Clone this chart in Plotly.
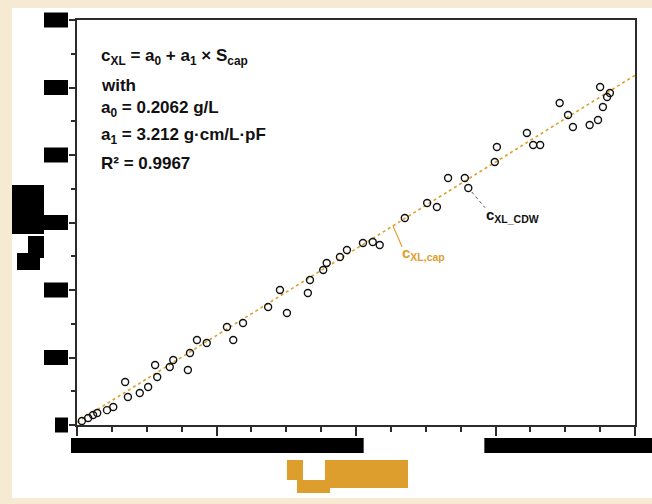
import plotly.graph_objects as go

# Capacitance signal S_cap (pF/cm) vs. dry-weight biomass concentration c_XL (g/L)
s_cap = [0.07, 0.16, 0.23, 0.29, 0.43, 0.52, 0.69, 0.73, 0.90, 1.02,
         1.12, 1.15, 1.33, 1.38, 1.59, 1.62, 1.72, 1.86, 2.15, 2.24,
         2.38, 2.74, 2.91, 3.01, 3.31, 3.34, 3.53, 3.58, 3.77, 3.87,
         4.10, 4.24, 4.34, 4.70, 5.02, 5.16, 5.32, 5.56, 5.61, 6.02,
         5.99, 6.45, 6.54, 6.64, 6.92, 7.04, 7.11, 7.35, 7.47, 7.54,
         7.64, 7.50, 7.60]
c_xl_cdw = [0.30, 0.52, 0.74, 0.89, 1.10, 1.33, 3.19, 2.07, 2.37, 2.81,
            4.44, 3.56, 4.30, 4.81, 4.07, 5.33, 6.30, 6.07, 7.26, 6.30,
            7.56, 8.74, 10.00, 8.30, 9.78, 10.74, 11.48, 12.00, 12.44, 12.96,
            13.48, 13.56, 13.33, 15.33, 16.44, 16.15, 18.30, 18.30, 17.56, 20.59,
            19.48, 21.63, 20.74, 20.74, 23.85, 22.96, 22.07, 22.22, 22.59, 23.56,
            24.59, 25.04, 24.30]

# Linear calibration c_XL = a0 + a1 * S_cap
a0 = 0.2062
a1 = 3.212
fit_x = [0.0, 8.0]
fit_y = [a0 + a1 * v for v in fit_x]

x_range = [0, 8]
y_range = [0, 30]
x_ticks = [0, 2, 4, 6, 8]
y_ticks = [0, 5, 10, 15, 20, 25, 30]

W, H = 652, 504
L, R, T, B = 77, 635, 20, 425
ORANGE = "#DE9E2E"
CREAM = "#F6EAD3"
FONT = "Liberation Sans, Arial, sans-serif"


def px(x):
    return (x - L) / (R - L)


def py(y):
    return (B - y) / (B - T)


def yfrac(v):
    return (v - y_range[0]) / (y_range[1] - y_range[0])


def xfrac(v):
    return (v - x_range[0]) / (x_range[1] - x_range[0])


fig = go.Figure()

fig.add_trace(go.Scatter(
    x=fit_x, y=fit_y, mode="lines",
    line=dict(color=ORANGE, width=1.6, dash="dot"),
    hoverinfo="skip", showlegend=False,
))
fig.add_trace(go.Scatter(
    x=s_cap, y=c_xl_cdw, mode="markers",
    marker=dict(symbol="circle-open", size=7, color="#111111",
                line=dict(width=1.4, color="#111111")),
    showlegend=False,
))

shapes = []
# white panel on cream page
shapes.append(dict(type="rect", xref="paper", yref="paper",
                   x0=px(12), x1=px(652), y0=py(8), y1=py(498),
                   fillcolor="white", line=dict(width=0), layer="below"))

# blacked-out y tick labels
half = 7.5 / (B - T)
for v in y_ticks:
    x0 = 44 if v != 0 else 55
    yc = yfrac(v)
    shapes.append(dict(type="rect", xref="paper", yref="paper",
                       x0=px(x0), x1=px(68), y0=yc - half, y1=yc + half,
                       fillcolor="black", line=dict(width=0)))
# blacked-out x tick labels
for xa, xb in [(-0.086, 4.11), (5.84, 8.3)]:
    shapes.append(dict(type="rect", xref="paper", yref="paper",
                       x0=xfrac(xa), x1=xfrac(xb), y0=py(453), y1=py(438),
                       fillcolor="black", line=dict(width=0)))
# blacked-out y-axis title
for (xa, xb, ya, yb) in [(12, 44, 185, 234), (28, 44, 236, 258), (17, 40, 253, 270)]:
    shapes.append(dict(type="rect", xref="paper", yref="paper",
                       x0=px(xa), x1=px(xb), y0=py(yb), y1=py(ya),
                       fillcolor="black", line=dict(width=0)))
# orange-covered x-axis title
poly = [(287, 460), (303, 460), (303, 480), (325, 480), (325, 460), (408, 460),
        (408, 488), (330, 488), (330, 493), (297, 493), (297, 480), (287, 480)]
path = "M " + " L ".join(f"{px(a):.4f},{py(b):.4f}" for a, b in poly) + " Z"
shapes.append(dict(type="path", xref="paper", yref="paper", path=path,
                   fillcolor=ORANGE, line=dict(width=0)))

# leader lines for the two curve labels
shapes.append(dict(type="line", xref="x", yref="y", x0=5.66, y0=17.26, x1=5.85, y1=16.1,
                   line=dict(color="#555555", width=1, dash="dot")))
shapes.append(dict(type="line", xref="x", yref="y", x0=4.53, y0=14.75, x1=4.66, y1=13.2,
                   line=dict(color=ORANGE, width=1.2)))

annotations = []
eq_lines = [
    (57, "c<sub>XL</sub> = a<sub>0</sub> + a<sub>1</sub> × S<sub>cap</sub>"),
    (85, "with"),
    (109, "a<sub>0</sub> = 0.2062 g/L"),
    (136, "a<sub>1</sub> = 3.212 g·cm/L·pF"),
    (164, "R² = 0.9967"),
]
for yy, txt in eq_lines:
    annotations.append(dict(xref="paper", yref="paper", x=px(99), y=py(yy),
                            xanchor="left", yanchor="middle", text=txt, showarrow=False,
                            font=dict(family=FONT, size=17, color="#111111", weight="bold")))
annotations.append(dict(xref="x", yref="y", x=5.83, y=15.5, xanchor="left", yanchor="middle",
                        text="c<sub>XL_CDW</sub>", showarrow=False,
                        font=dict(family=FONT, size=15, color="#111111", weight="bold")))
annotations.append(dict(xref="x", yref="y", x=4.63, y=12.7, xanchor="left", yanchor="middle",
                        text="c<sub>XL,cap</sub>", showarrow=False,
                        font=dict(family=FONT, size=15, color=ORANGE, weight="bold")))

axis_common = dict(showgrid=False, zeroline=False, showline=True, mirror=True,
                   linecolor="#2b2b2b", linewidth=2, showticklabels=False,
                   ticks="outside", tickcolor="#2b2b2b", tickwidth=1.5)

fig.update_layout(
    width=W, height=H,
    margin=dict(l=L, r=W - R, t=T, b=H - B),
    paper_bgcolor=CREAM, plot_bgcolor="white",
    xaxis=dict(range=x_range, tickvals=x_ticks, ticklen=9,
               minor=dict(dtick=0.5, ticks="outside", ticklen=5, tickcolor="#2b2b2b", tickwidth=1.5),
               **axis_common),
    yaxis=dict(range=y_range, tickvals=y_ticks, ticklen=6,
               minor=dict(dtick=2.5, ticks="outside", ticklen=4, tickcolor="#2b2b2b", tickwidth=1.5),
               **axis_common),
    shapes=shapes, annotations=annotations,
)

fig.write_html("out.html")
